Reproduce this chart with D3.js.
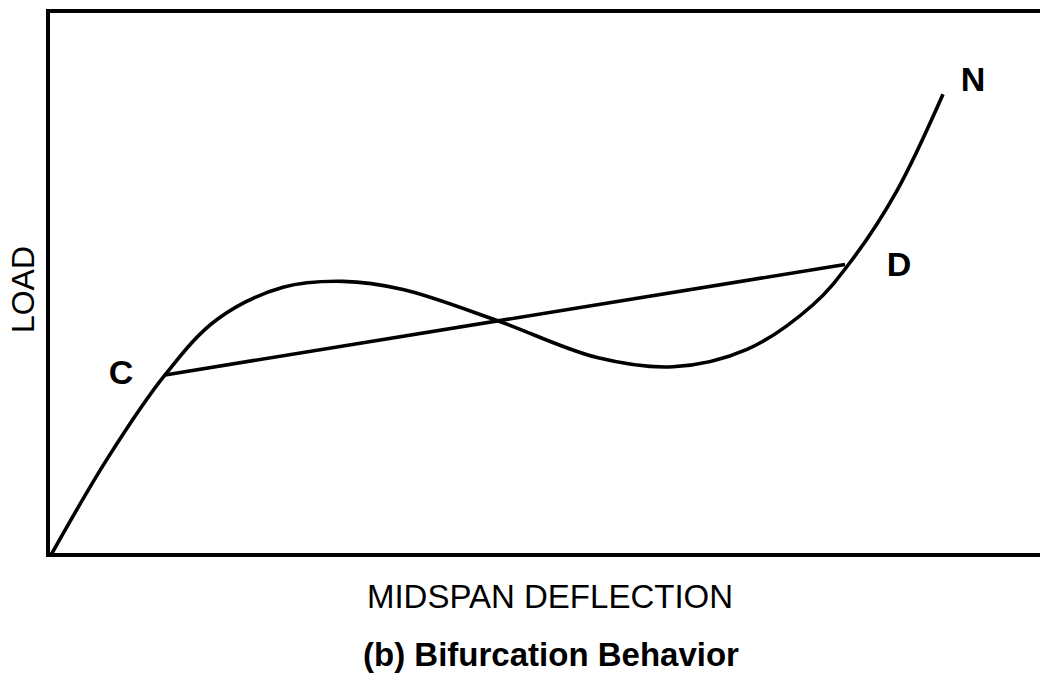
<!DOCTYPE html>
<html>
<head>
<meta charset="utf-8">
<script src="https://cdn.jsdelivr.net/npm/d3@7"></script>
<style>
  body { margin: 0; background: #fff; }
  text { font-family: "Liberation Sans", Arial, sans-serif; fill: #000; }
</style>
</head>
<body>
<div class="canvas"></div>
<script>
// curve data (deflection, load)
const deflection = [0, 57, 114, 166, 232, 292, 352, 446, 546, 622, 696, 762, 800, 846, 892];
const load = [0, 17.9, 33.1, 43.3, 49.2, 50.3, 48.8, 43.1, 36.3, 34.6, 37.8, 46.0, 54.0, 67.0, 84.7];

// straight chord from C to D
const chordDefl = [114, 794];
const chordLoad = [33.1, 53.4];

// point labels
const pointNames = ['C', 'D', 'N'];
const pointDefl = [70, 848, 922];
const pointLoad = [31.5, 51.2, 85.3];

// chart dimensions
const dims = { width: 1040, height: 679 };
const plot = { left: 50, top: 11, bottom: 555, right: 1050 };

const svg = d3.select('.canvas')
  .append('svg')
  .attr('width', dims.width)
  .attr('height', dims.height);

// scales
const x = d3.scaleLinear().domain([0, 1000]).range([plot.left + 1, plot.right + 1]);
const y = d3.scaleLinear().domain([0, 100]).range([plot.bottom, plot.top]);

// frame (right side runs off the page)
svg.append('rect')
  .attr('x', plot.left - 2)
  .attr('y', plot.top)
  .attr('width', plot.right - plot.left + 40)
  .attr('height', plot.bottom - plot.top)
  .attr('fill', 'none')
  .attr('stroke', '#000')
  .attr('stroke-width', 4);

// load-deflection curve
const line = d3.line()
  .x(d => x(d[0]))
  .y(d => y(d[1]))
  .curve(d3.curveCatmullRom.alpha(0.5));

svg.append('path')
  .datum(d3.zip(deflection, load))
  .attr('d', line)
  .attr('fill', 'none')
  .attr('stroke', '#000')
  .attr('stroke-width', 3.6)
  .attr('stroke-linejoin', 'round');

svg.append('path')
  .datum(d3.zip(chordDefl, chordLoad))
  .attr('d', d3.line().x(d => x(d[0])).y(d => y(d[1])))
  .attr('fill', 'none')
  .attr('stroke', '#000')
  .attr('stroke-width', 3.6);

// C, D, N labels
svg.selectAll('.pt')
  .data(d3.zip(pointNames, pointDefl, pointLoad))
  .enter()
  .append('text')
    .attr('class', 'pt')
    .attr('x', d => x(d[1]))
    .attr('y', d => y(d[2]))
    .attr('text-anchor', 'middle')
    .attr('font-size', 34)
    .attr('font-weight', 'bold')
    .text(d => d[0]);

// axis titles
svg.append('text')
  .attr('transform', `translate(34, ${y(48.8)}) rotate(-90)`)
  .attr('text-anchor', 'middle')
  .attr('font-size', 32)
  .text('LOAD');

svg.append('text')
  .attr('x', 550)
  .attr('y', 608)
  .attr('text-anchor', 'middle')
  .attr('font-size', 33)
  .text('MIDSPAN DEFLECTION');

svg.append('text')
  .attr('x', 551)
  .attr('y', 666)
  .attr('text-anchor', 'middle')
  .attr('font-size', 33)
  .attr('font-weight', 'bold')
  .text('(b) Bifurcation Behavior');
</script>
</body>
</html>
